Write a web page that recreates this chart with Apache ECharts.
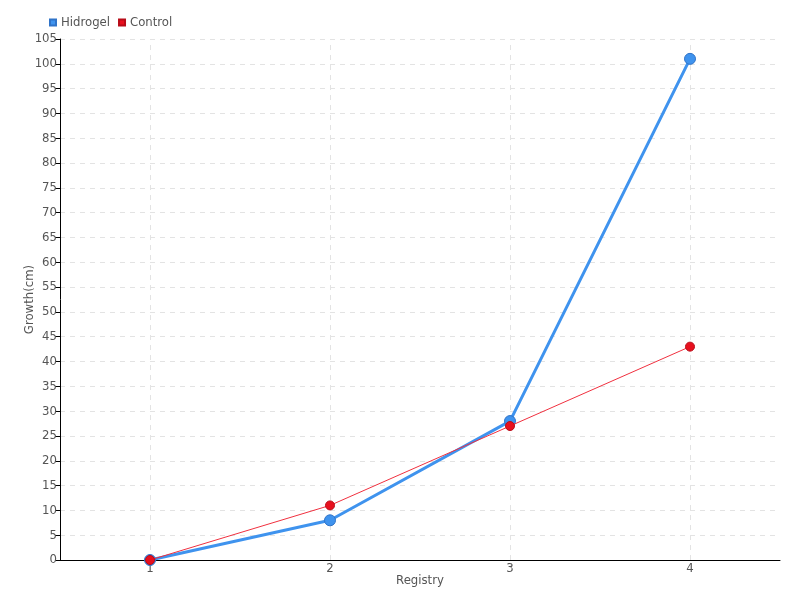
<!DOCTYPE html>
<html><head><meta charset="utf-8">
<script src="https://cdn.jsdelivr.net/npm/echarts@6/dist/echarts.min.js"></script>
<style>html,body{margin:0;padding:0;background:#fff}#c{width:800px;height:600px}</style>
</head><body><div id="c"></div>
<script>
const categories = ['1', '2', '3', '4'];
const hidrogel = [0, 8, 28, 101];
const control = [0, 11, 27, 43];
const seriesNames = ['Hidrogel', 'Control'];
const FONT = "'DejaVu Sans Condensed', 'Liberation Sans Narrow', sans-serif";
const chart = echarts.init(document.getElementById('c'));
chart.setOption({
  animation: false,
  textStyle: { fontFamily: FONT },
  legend: {
    left: 44, top: 11, icon: 'rect', itemWidth: 6, itemHeight: 6, itemGap: 8,
    textStyle: { fontFamily: FONT, fontSize: 13, color: '#555' },
    data: seriesNames
  },
  grid: { left: 60, right: 20, top: 39, bottom: 40, containLabel: false },
  xAxis: {
    type: 'category', data: categories, boundaryGap: true,
    name: 'Registry', nameLocation: 'middle', nameGap: 14, nameMoveOverlap: false,
    nameTextStyle: { fontFamily: FONT, fontSize: 13, color: '#555' },
    axisLine: { lineStyle: { color: '#000', width: 1 } },
    axisTick: { alignWithLabel: true, length: 5, lineStyle: { color: '#000' } },
    axisLabel: { fontFamily: FONT, fontSize: 13, color: '#555', margin: 2 },
    splitLine: { show: false }
  },
  yAxis: {
    type: 'value', min: 0, max: 105, interval: 5,
    name: 'Growth(cm)', nameLocation: 'middle', nameGap: 24, nameRotate: 90, nameMoveOverlap: false,
    nameTextStyle: { fontFamily: FONT, fontSize: 13, color: '#555' },
    axisLine: { show: true, lineStyle: { color: '#000', width: 1 } },
    axisTick: { show: true, length: 5, lineStyle: { color: '#000' } },
    axisLabel: { fontFamily: FONT, fontSize: 13, color: '#555', margin: 3 },
    splitLine: { show: true, lineStyle: { color: '#e3e3e3', type: [5, 5], width: 1 } }
  },
  series: [
    {
      name: seriesNames[0], type: 'line', data: hidrogel, z: 2,
      symbol: 'circle', symbolSize: 11,
      lineStyle: { color: '#3f93ee', width: 3 },
      itemStyle: { color: '#3f93ee', borderColor: '#2f73c8', borderWidth: 1 },
      markLine: {
        silent: true, symbol: 'none', label: { show: false },
        lineStyle: { color: '#e3e3e3', type: [5, 5], width: 1 },
        data: categories.map(c => ({ xAxis: c })),
        z: 0
      }
    },
    {
      name: seriesNames[1], type: 'line', data: control, z: 3,
      symbol: 'circle', symbolSize: 9,
      lineStyle: { color: '#f0303f', width: 1 },
      itemStyle: { color: '#e8101e', borderColor: '#b80c18', borderWidth: 1 }
    }
  ]
});
</script></body></html>
